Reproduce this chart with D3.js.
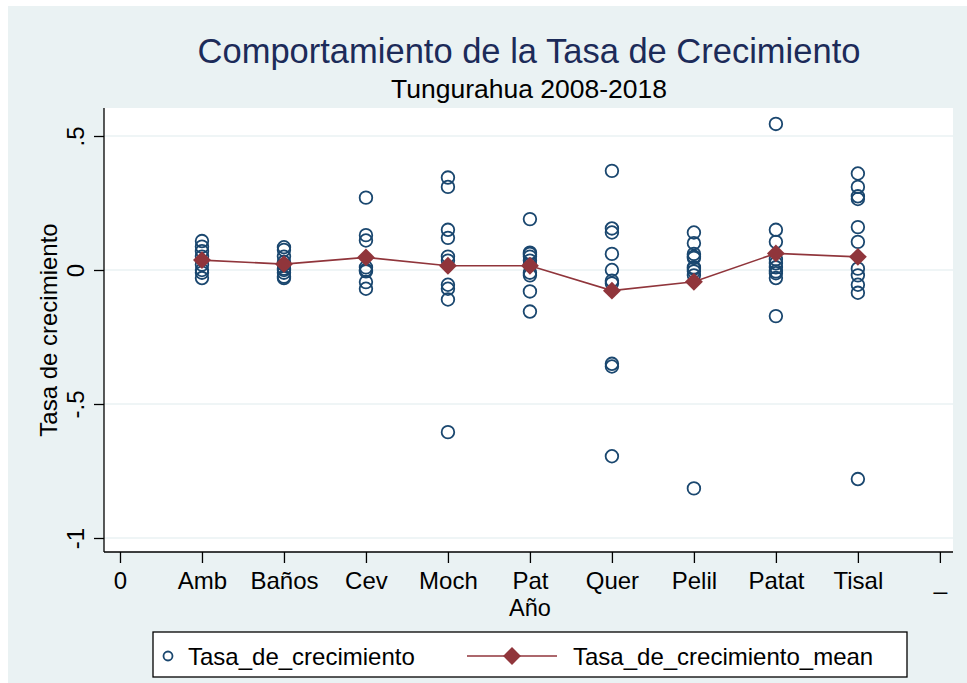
<!DOCTYPE html>
<html>
<head>
<meta charset="utf-8">
<script src="https://cdn.jsdelivr.net/npm/d3@7"></script>
<style>
    body { margin: 0; background: #ffffff; }
    svg { display: block; font-family: "Liberation Sans", Arial, sans-serif; }
    .grid line { stroke: #eaf2f3; stroke-width: 1.5; }
    .axis path, .axis line { stroke: #000000; stroke-width: 1.3; }
    .axis text { font-size: 24px; fill: #000000; }
    .rate { fill: none; stroke: #1a476f; stroke-width: 1.8; }
    .meanLine { fill: none; stroke: #90353b; stroke-width: 1.6; }
    .meanMarker { fill: #90353b; }
</style>
</head>
<body>
<script>
'use strict';

// Position on the x axis of each canton (0 and 10 are empty ticks)
const tickValues = [0, 1, 2, 3, 4, 5, 6, 7, 8, 9, 10];
const tickLabels = ['0', 'Amb', 'Baños', 'Cev', 'Moch', 'Pat', 'Quer', 'Pelil', 'Patat', 'Tisal', '_'];
const cantonPositions = [1, 2, 3, 4, 5, 6, 7, 8, 9];

// Tasa_de_crecimiento, one list of yearly rates per canton
const rates = [
    [0.108, 0.087, 0.07, 0.05, 0.02, 0.0, -0.01, -0.03],
    [0.085, 0.075, 0.05, 0.03, 0.02, 0.005, 0.0, -0.01, -0.025, -0.03],
    [0.27, 0.13, 0.11, 0.01, 0.0, -0.005, -0.045, -0.07],
    [0.345, 0.31, 0.15, 0.12, 0.05, 0.035, -0.055, -0.07, -0.11, -0.605],
    [0.19, 0.065, 0.06, 0.05, 0.035, 0.02, -0.01, -0.02, -0.08, -0.155],
    [0.37, 0.155, 0.14, 0.06, 0.0, -0.04, -0.05, -0.35, -0.36, -0.695],
    [0.14, 0.1, 0.06, 0.05, 0.045, 0.01, 0.005, -0.005, -0.02, -0.815],
    [0.545, 0.15, 0.105, 0.04, 0.025, 0.01, -0.005, -0.012, -0.03, -0.172],
    [0.36, 0.31, 0.275, 0.265, 0.16, 0.105, 0.005, -0.02, -0.055, -0.085, -0.78]
];

// Tasa_de_crecimiento_mean per canton
const means = [0.037, 0.022, 0.047, 0.016, 0.016, -0.077, -0.044, 0.062, 0.049];

const yTicks = [-1, -0.5, 0, 0.5];
const yTickLabels = ['-1', '-.5', '0', '.5'];

(function () {

    function getPlotArea() {
        return {
            svg: { width: 967, height: 683 },
            left: 104,
            right: 953,
            top: 108,
            bottom: 552
        };
    }

    /**
     * x: canton index, y: growth rate.
     */
    function makeScales(plot) {
        return {
            x: d3.scaleLinear()
                .domain([-0.195, 10.16])
                .range([plot.left, plot.right]),
            y: d3.scaleLinear()
                .domain([-1, 0.5])
                .range([538, 136])
        };
    }

    function appendBackground(svg, plot) {
        svg.append('rect')
            .attr('x', 8).attr('y', 6)
            .attr('width', plot.svg.width - 8)
            .attr('height', plot.svg.height - 6)
            .attr('fill', '#eaf2f3');
        svg.append('rect')
            .attr('x', plot.left).attr('y', plot.top)
            .attr('width', plot.right - plot.left)
            .attr('height', plot.bottom - plot.top)
            .attr('fill', '#ffffff');
    }

    function appendGrid(svg, plot, scales) {
        svg.append('g')
            .attr('class', 'grid')
            .selectAll('line')
            .data(yTicks)
            .enter()
            .append('line')
            .attr('x1', plot.left)
            .attr('x2', plot.right)
            .attr('y1', d => scales.y(d))
            .attr('y2', d => scales.y(d));
    }

    function appendAxes(svg, plot, scales) {
        const xAxis = d3.axisBottom(scales.x)
            .tickValues(tickValues)
            .tickSize(11)
            .tickPadding(3)
            .tickFormat((d, i) => tickLabels[i]);
        const xg = svg.append('g')
            .attr('class', 'axis')
            .attr('transform', 'translate(0,' + plot.bottom + ')')
            .call(xAxis);
        xg.select('.domain').attr('d', 'M' + plot.left + ',0H' + plot.right);
        xg.selectAll('.tick text').attr('dy', null).attr('y', 37);

        const yAxis = d3.axisLeft(scales.y)
            .tickValues(yTicks)
            .tickSize(10)
            .tickFormat((d, i) => yTickLabels[i]);
        const yg = svg.append('g')
            .attr('class', 'axis')
            .attr('transform', 'translate(' + plot.left + ',0)')
            .call(yAxis);
        yg.select('.domain').attr('d', 'M0,' + plot.top + 'V' + plot.bottom);
        // Stata draws vertical y labels
        yg.selectAll('.tick text')
            .attr('x', 0).attr('dy', null)
            .attr('text-anchor', 'middle')
            .attr('transform', 'translate(-20,0) rotate(-90)');

        svg.append('text')
            .attr('text-anchor', 'middle')
            .attr('font-size', 24)
            .attr('transform', 'translate(57,' + ((plot.top + plot.bottom) / 2) + ') rotate(-90)')
            .text('Tasa de crecimiento');

        svg.append('text')
            .attr('text-anchor', 'middle')
            .attr('font-size', 23.5)
            .attr('x', scales.x(5))
            .attr('y', 616)
            .text('Año');
    }

    /**
     * Hollow circles for every yearly rate, at the canton's x position.
     */
    function appendRates(svg, scales) {
        const points = [];
        rates.forEach((list, i) => list.forEach(v => points.push({ x: cantonPositions[i], y: v })));
        svg.append('g')
            .selectAll('circle')
            .data(points)
            .enter()
            .append('circle')
            .attr('class', 'rate')
            .attr('cx', d => scales.x(d.x))
            .attr('cy', d => scales.y(d.y))
            .attr('r', 6.3);
    }

    function appendMeans(svg, scales) {
        const line = d3.line()
            .x((d, i) => scales.x(cantonPositions[i]))
            .y(d => scales.y(d));
        svg.append('path')
            .attr('class', 'meanLine')
            .attr('d', line(means));
        svg.append('g')
            .selectAll('path')
            .data(means)
            .enter()
            .append('path')
            .attr('class', 'meanMarker')
            .attr('d', d3.symbol().type(d3.symbolSquare).size(160))
            .attr('transform', (d, i) => 'translate(' + scales.x(cantonPositions[i]) + ',' + scales.y(d) + ') rotate(45)');
    }

    function appendTitles(svg) {
        svg.append('text')
            .attr('x', 529).attr('y', 63)
            .attr('text-anchor', 'middle')
            .attr('font-size', 34.5)
            .attr('fill', '#1c2b59')
            .text('Comportamiento de la Tasa de Crecimiento');
        svg.append('text')
            .attr('x', 529).attr('y', 98)
            .attr('text-anchor', 'middle')
            .attr('font-size', 26.5)
            .attr('fill', '#000000')
            .text('Tungurahua 2008-2018');
    }

    function appendLegend(svg) {
        const g = svg.append('g').attr('class', 'legend');
        g.append('rect')
            .attr('x', 153).attr('y', 632)
            .attr('width', 754).attr('height', 45)
            .attr('fill', '#ffffff')
            .attr('stroke', '#000000')
            .attr('stroke-width', 1.3);
        g.append('circle')
            .attr('class', 'rate')
            .attr('cx', 168).attr('cy', 656)
            .attr('r', 4.5);
        g.append('text')
            .attr('x', 188).attr('y', 665)
            .attr('font-size', 24)
            .text('Tasa_de_crecimiento');
        g.append('line')
            .attr('class', 'meanLine')
            .attr('x1', 467).attr('x2', 557)
            .attr('y1', 656).attr('y2', 656);
        g.append('path')
            .attr('class', 'meanMarker')
            .attr('d', d3.symbol().type(d3.symbolSquare).size(160))
            .attr('transform', 'translate(512,656) rotate(45)');
        g.append('text')
            .attr('x', 573).attr('y', 665)
            .attr('font-size', 24)
            .text('Tasa_de_crecimiento_mean');
    }

    function draw() {
        const plot = getPlotArea();
        const svg = d3.select('body').append('svg')
            .attr('width', plot.svg.width)
            .attr('height', plot.svg.height);
        const scales = makeScales(plot);
        appendBackground(svg, plot);
        appendGrid(svg, plot, scales);
        appendAxes(svg, plot, scales);
        appendRates(svg, scales);
        appendMeans(svg, scales);
        appendTitles(svg);
        appendLegend(svg);
    }

    window.onload = draw;

})();
</script>
</body>
</html>
